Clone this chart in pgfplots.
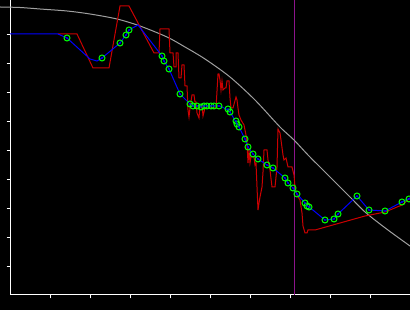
\documentclass[border=0pt]{standalone}
\usepackage{pgfplots}
\pgfplotsset{compat=1.18}
\usetikzlibrary{backgrounds}
\definecolor{cgray}{RGB}{160,160,160}
\definecolor{cred}{RGB}{204,0,0}
\definecolor{cblue}{RGB}{0,0,255}
\definecolor{cgreen}{RGB}{0,255,0}
\definecolor{cpurple}{RGB}{140,20,140}
\begin{document}
\begin{tikzpicture}
\begin{axis}[
 x=1pt, y=1pt,
 xmin=10, xmax=410, ymin=0, ymax=295,
 axis x line*=bottom, axis y line*=left,
 axis line style={white, line width=1pt},
 clip=false,
 xtick={50,90,...,370},
 ytick={28.7,57.7,...,260.7},
 xticklabels={}, yticklabels={},
 tick align=outside,
 major tick length=3.5pt,
 tick style={white, line width=1pt},
]
\coordinate (bl) at (axis cs:0,-15);
\coordinate (tr) at (axis cs:410,295);
% purple vertical line
\addplot[cpurple, line width=1pt] coordinates {(294,0) (294,295)};
% gray curve
\addplot[cgray, line width=1pt, smooth] coordinates {
(0,288)(20,287.5)(40,286)(67,284)(90,281)(117,276)(140,269)(167,258)(185,248)(205,236)(230,218)(255,195)(280,168)(294,155)(308,140)(323,125)(338,110)(352,96)(365,83)(380,71)(392,62)(410,49)};
% red
\addplot[cred, line width=1pt] coordinates {
(58,261)(77,261)(93,227)(109,227)(120,289)(129,289)(154,242)(159,242)(160,266)(169,266)(170,242)(173,242)(174,228)(176,228)(176,242)(178,242)(179,217)(181,217)(182,230)(184,230)(185,209)(187,209)(188,185)(189,178)(190,187)(192,200)(194,200)(195,193)(196,193)(197,182)(199,177)(200,190)(202,190)(203,179)(205,187)(216,187)(218,221)(219,221)(220,215)(221,205)(222,214)(223,205)(225,207)(226,207)(227,214)(229,214)(230,197)(231,187)(233,187)(236,198)(237,195)(238,187)(239,180)(241,175)(244,170)(246,160)(247,152)(248,132)(249,145)(250,132)(251,138)(254,138)(255,130)(256,132)(257,108)(258,85)(259,92)(260,98)(262,108)(263,123)(264,145)(267,145)(268,135)(270,125)(272,108)(275,108)(277,128)(278,166)(280,162)(281,155)(283,140)(284,135)(286,137)(288,128)(292,128)(294,120)(295,108)(297,100)(300,95)(302,82)(303,69)(305,62)(307,62)(308,65)(315,65)(365,79)(385,83)(402,90)(410,97)};
% blue
\addplot[cblue, line width=1pt] coordinates {
(10,261)(58,261)(67,257)(90,236)(97,234)(102,237)(120,252)(126,260)(129,265)(138,270)(162,239)(164,234)(169,226)(180,201)(190,191)(193,189)(220,189)(228,185)(230,183)(236,173)(239,168)(245,156)(248,148)(253,141)(258,136)(267,130)(273,127)(285,117)(288,112)(293,107)(297,101)(305,92)(308,89)(325,75)(334,76)(338,81)(357,99)(369,85)(385,84)(402,93)(410,97)};
% markers
\pgfplotstableread{
x y
67 257
102 237
120 252
126 260
129 265
162 239
164 234
169 226
180 201
190 191
193 189
197 189
201 188
204 189
207 189
211 189
214 189
219 189
228 186
230 183
236 174
237 171
239 168
245 156
248 148
253 141
258 136
267 130
273 127
285 117
288 112
293 107
297 101
305 92
307 89
309 88
325 75
334 76
338 81
357 99
369 85
385 84
402 93
409 96
}\marks
\addplot[only marks, mark=o, mark size=3pt, mark options={draw=cgreen, line width=1pt}] table {\marks};
\addplot[only marks, mark=*, mark size=0.6pt, mark options={draw=cblue, fill=cblue}] table {\marks};
\end{axis}
\begin{scope}[on background layer]
\fill[black] (bl) rectangle (tr);
\end{scope}
\pgfresetboundingbox
\path (bl) rectangle (tr);
\end{tikzpicture}
\end{document}
